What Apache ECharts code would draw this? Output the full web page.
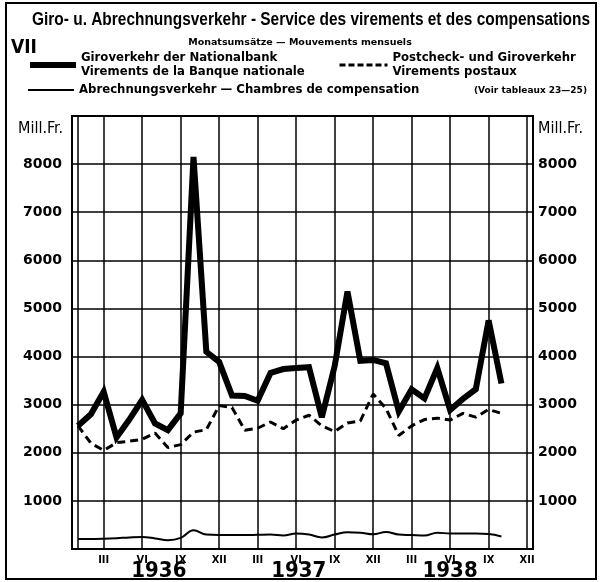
<!DOCTYPE html>
<html>
<head>
<meta charset="utf-8">
<script src="https://cdn.jsdelivr.net/npm/echarts@6/dist/echarts.min.js"></script>
<style>
  html, body { margin: 0; padding: 0; background: #fff; }
  #chart { width: 600px; height: 582px; }
</style>
</head>
<body>
<div id="chart"></div>
<script>
// months Jan 1936 .. Oct 1938
const months = [
  '1936-01','1936-02','1936-03','1936-04','1936-05','1936-06','1936-07','1936-08','1936-09','1936-10','1936-11','1936-12',
  '1937-01','1937-02','1937-03','1937-04','1937-05','1937-06','1937-07','1937-08','1937-09','1937-10','1937-11','1937-12',
  '1938-01','1938-02','1938-03','1938-04','1938-05','1938-06','1938-07','1938-08','1938-09','1938-10'
];
// Mill. Fr.
const nationalbank = [2560, 2800, 3270, 2320, 2690, 3100, 2610, 2470, 2820, 8150, 4100, 3890,
  3190, 3180, 3080, 3660, 3740, 3760, 3780, 2740, 3800, 5350, 3910, 3930,
  3860, 2860, 3320, 3130, 3760, 2890, 3120, 3320, 4750, 3440];
const postal = [2560, 2200, 2050, 2210, 2240, 2280, 2410, 2110, 2170, 2430, 2480, 2980,
  2940, 2470, 2510, 2640, 2500, 2680, 2780, 2560, 2440, 2620, 2660, 3220,
  2920, 2360, 2560, 2690, 2720, 2680, 2820, 2740, 2900, 2820];
const clearing = [210, 210, 215, 225, 240, 250, 220, 180, 230, 390, 300, 290,
  290, 290, 295, 300, 280, 320, 300, 240, 300, 350, 340, 305,
  355, 300, 290, 280, 340, 320, 320, 320, 310, 260];

const monthTicks = [0, 2, 5, 8, 11, 14, 17, 20, 23, 26, 29, 32, 35];
const monthTickLabels = ['', 'III', 'VI', 'IX', 'XII', 'III', 'VI', 'IX', 'XII', 'III', 'VI', 'IX', 'XII'];
const yearTicks = [6.3, 17.2, 29.0];
const yearLabels = ['1936', '1937', '1938'];

const titleText = 'Giro- u. Abrechnungsverkehr - Service des virements et des compensations';
const nameBank = 'Giroverkehr der Nationalbank\nVirements de la Banque nationale';
const namePostal = 'Postcheck- und Giroverkehr\nVirements postaux';
const nameClearing = 'Abrechnungsverkehr — Chambres de compensation';

const narrow = "'DejaVu Sans Condensed', 'Liberation Sans', sans-serif";
const wide = "'DejaVu Sans', sans-serif";

const toXY = arr => arr.map((v, i) => [i, v]);

// squeeze the title to the width it has in the print
const titleFont = "bold 18px 'Liberation Sans'";
const ctx = document.createElement('canvas').getContext('2d');
ctx.font = titleFont;
const titleScale = 558 / ctx.measureText(titleText).width;

const legendText = { fontFamily: narrow, fontSize: 13, fontWeight: 'bold', color: '#000', lineHeight: 14 };
const axisLabelY = { fontFamily: wide, fontSize: 14, fontWeight: 'bold', color: '#000' };

let myChart = echarts.init(document.getElementById('chart'));
myChart.setOption({
  backgroundColor: '#fff',
  animation: false,
  title: [
    { text: 'Monatsumsätze — Mouvements mensuels', left: 'center', top: 33,
      textStyle: { fontFamily: wide, fontSize: 9.5, fontWeight: 'bold', color: '#000' } },
    { text: 'VII', left: 6, top: 34,
      textStyle: { fontFamily: narrow, fontSize: 19, fontWeight: 'bold', color: '#000' } },
    { text: '(Voir tableaux 23—25)', right: 8, top: 81,
      textStyle: { fontFamily: wide, fontSize: 9, fontWeight: 'bold', color: '#000' } },
    { text: 'Mill.Fr.', left: 13, top: 116,
      textStyle: { fontFamily: narrow, fontSize: 16, fontWeight: 'normal', color: '#000' } },
    { text: 'Mill.Fr.', left: 533, top: 116,
      textStyle: { fontFamily: narrow, fontSize: 16, fontWeight: 'normal', color: '#000' } }
  ],
  legend: [
    { left: 27, top: 51, padding: 0, data: [nameBank], itemWidth: 46, itemHeight: 14, selectedMode: false,
      lineStyle: { width: 6, color: '#000' }, itemStyle: { opacity: 0 },
      textStyle: legendText },
    { left: 338, top: 51, padding: 0, data: [namePostal], itemWidth: 48, itemHeight: 14, selectedMode: false,
      lineStyle: { width: 3, color: '#000', type: [6, 3] }, itemStyle: { opacity: 0 },
      textStyle: legendText },
    { left: 27, top: 83, padding: 0, data: [nameClearing], itemWidth: 46, itemHeight: 14, selectedMode: false,
      lineStyle: { width: 2, color: '#000' }, itemStyle: { opacity: 0 },
      textStyle: legendText }
  ],
  grid: {
    left: 72, right: 67, top: 116, bottom: 33,
    show: true, borderColor: '#000', borderWidth: 2,
    outerBoundsMode: 'none'
  },
  xAxis: [
    {
      type: 'value', min: -0.47, max: 35.46, position: 'bottom',
      axisLine: { show: true, lineStyle: { color: '#000', width: 2 } },
      axisTick: { show: false, customValues: monthTicks },
      splitLine: { show: true, lineStyle: { color: '#000', width: 1.5 } },
      axisLabel: {
        customValues: monthTicks.slice(1), margin: 6,
        fontFamily: narrow, fontSize: 11, fontWeight: 'bold', color: '#000',
        formatter: v => monthTickLabels[monthTicks.indexOf(Math.round(v))] || ''
      }
    },
    {
      type: 'value', min: -0.47, max: 35.46, position: 'bottom',
      axisLine: { show: false }, axisTick: { show: false, customValues: yearTicks },
      splitLine: { show: false },
      axisLabel: {
        customValues: yearTicks, margin: 11,
        fontFamily: narrow, fontSize: 22, fontWeight: 'bold', color: '#000',
        formatter: v => yearLabels[yearTicks.indexOf(v)] || ''
      }
    }
  ],
  yAxis: [
    {
      type: 'value', min: 0, max: 9000, interval: 1000, position: 'left',
      axisLine: { show: false }, axisTick: { show: false },
      splitLine: { show: true, lineStyle: { color: '#000', width: 1.5 } },
      axisLabel: Object.assign({ margin: 10, formatter: v => (v > 0 && v < 9000) ? String(v) : '' }, axisLabelY)
    },
    {
      type: 'value', min: 0, max: 9000, interval: 1000, position: 'right',
      axisLine: { show: false }, axisTick: { show: false },
      splitLine: { show: false },
      axisLabel: Object.assign({ margin: 5, formatter: v => (v > 0 && v < 9000) ? String(v) : '' }, axisLabelY)
    }
  ],
  graphic: [
    { type: 'rect', shape: { x: 6, y: 3, width: 590, height: 576 },
      style: { fill: 'none', stroke: '#000', lineWidth: 2 }, silent: true },
    { type: 'text', x: 32, y: 11, scaleX: titleScale, silent: true,
      style: { text: titleText, font: titleFont, fill: '#000' } }
  ],
  series: [
    {
      name: nameBank, type: 'line', data: toXY(nationalbank),
      symbol: 'none', z: 4, color: '#000',
      lineStyle: { color: '#000', width: 6, join: 'miter', miterLimit: 3 }
    },
    {
      name: namePostal, type: 'line', data: toXY(postal),
      symbol: 'none', z: 3, color: '#000',
      lineStyle: { color: '#000', width: 3, type: [8, 5] }
    },
    {
      name: nameClearing, type: 'line', data: toXY(clearing),
      symbol: 'none', smooth: 0.4, z: 3, color: '#000',
      lineStyle: { color: '#000', width: 2 }
    }
  ]
});
</script>
</body>
</html>
